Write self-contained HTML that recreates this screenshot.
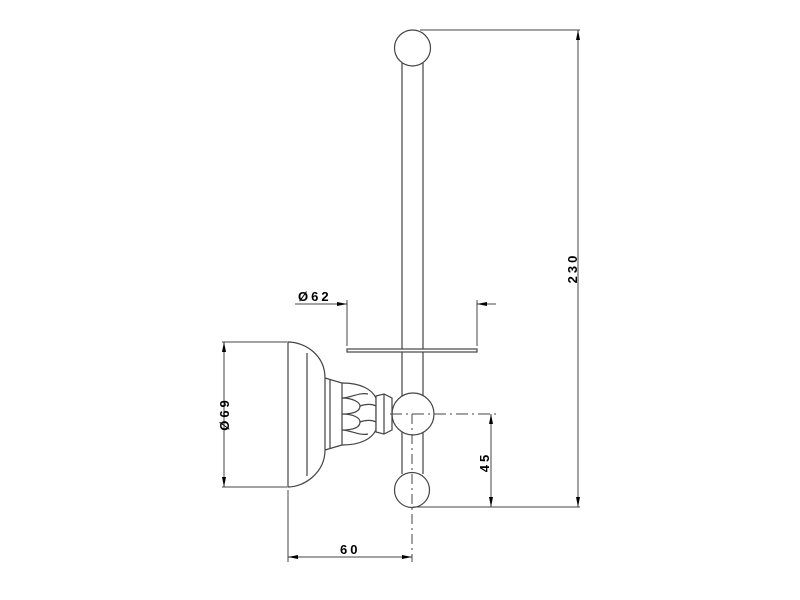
<!DOCTYPE html>
<html><head><style>body{margin:0;background:#fff}svg{display:block}</style></head><body>
<svg width="800" height="600" viewBox="0 0 800 600" xmlns="http://www.w3.org/2000/svg" font-family="Liberation Sans, sans-serif" font-weight="bold" font-size="13">
<defs>
<marker id="a" viewBox="0 0 10 4" refX="10" refY="2" markerWidth="10" markerHeight="4" markerUnits="userSpaceOnUse" orient="auto-start-reverse"><path d="M0,0L10,2L0,4z" fill="#000"/></marker>
</defs>
<g fill="none" stroke="#444" stroke-width="1.2">
<line x1="402" y1="63" x2="402" y2="474"/>
<line x1="423" y1="63" x2="423" y2="474"/>
<circle cx="412.5" cy="48" r="18" fill="#fff"/>
<circle cx="413" cy="414" r="21" fill="#fff"/>
<circle cx="412" cy="490" r="17.5" fill="#fff"/>
<rect x="347" y="349" width="130" height="3" fill="#fff"/>
<path d="M288,342 C305,342 325,355 325,378 L325,450 C325,472 305,487 288,487 Z" fill="#fff"/>
<line x1="307" y1="353" x2="307" y2="476"/>
<path d="M325,378 L342,383 L342,445 L325,450"/>
<line x1="330" y1="380" x2="330" y2="448"/>
<path d="M342,383 C362,383 372,390 376,398 L376,430 C372,438 362,445 342,445"/>
<path d="M342,398 C350,398 360,392 368,394 M342,398 C354,398 360,403 360,406 C360,411 354,414 342,414 M342,414 C354,414 360,418 360,422 C360,427 354,430 342,430 M342,430 C350,430 360,436 368,434"/>
<path d="M360,406 C366,404 372,404 376,406 M360,422 C366,420 372,420 376,422"/>
<path d="M376,396 L384,394 L392,398 L392,430 L384,434 L376,432 Z" fill="#fff"/>
<line x1="384" y1="394" x2="384" y2="434"/>
</g>
<g stroke="#444" stroke-width="1" fill="none">
<line x1="420" y1="30" x2="580" y2="30"/>
<line x1="578" y1="30" x2="578" y2="507" marker-start="url(#a)" marker-end="url(#a)"/>
<line x1="413" y1="507" x2="580" y2="507"/>
<line x1="491" y1="414" x2="491" y2="507" marker-start="url(#a)" marker-end="url(#a)"/>
<line x1="390" y1="414" x2="496" y2="414" stroke-dasharray="12,4,2,4"/>
<line x1="412" y1="414" x2="412" y2="562" stroke-dasharray="10,4,2,4"/>
<line x1="288" y1="490" x2="288" y2="562"/>
<line x1="288" y1="557" x2="412" y2="557" marker-start="url(#a)" marker-end="url(#a)"/>
<line x1="222" y1="342" x2="287" y2="342"/>
<line x1="222" y1="487" x2="287" y2="487"/>
<line x1="224" y1="342" x2="224" y2="487" marker-start="url(#a)" marker-end="url(#a)"/>
<line x1="347" y1="300" x2="347" y2="346"/>
<line x1="477" y1="300" x2="477" y2="346"/>
<line x1="295" y1="304" x2="347" y2="304" marker-end="url(#a)"/>
<line x1="496" y1="304" x2="477" y2="304" marker-end="url(#a)"/>
</g>
<g fill="#000" letter-spacing="3">
<text x="298" y="301">Ø62</text>
<text x="340" y="554">60</text>
<text transform="translate(577,268) rotate(-90)" text-anchor="middle">230</text>
<text transform="translate(489,462) rotate(-90)" text-anchor="middle">45</text>
<text transform="translate(229,414) rotate(-90)" text-anchor="middle">Ø69</text>
</g>
</svg>
</body></html>
